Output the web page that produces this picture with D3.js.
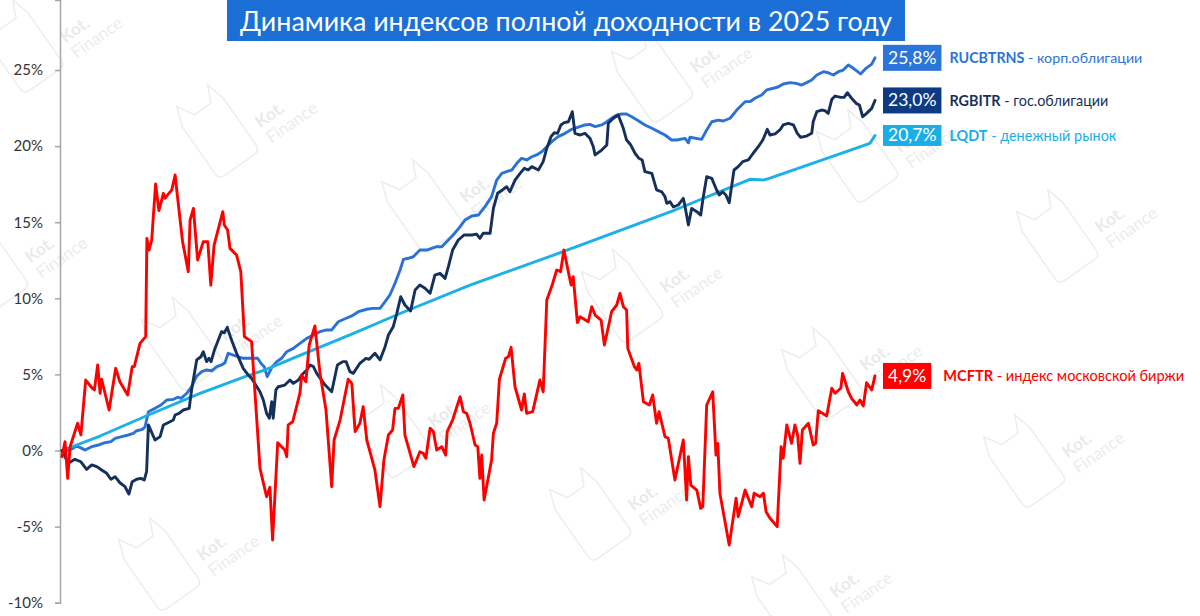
<!DOCTYPE html>
<html><head><meta charset="utf-8">
<script src="https://cdn.jsdelivr.net/npm/d3@7"></script>
<style>body{margin:0;background:#fff}svg{display:block;font-family:Lato,"Open Sans",sans-serif}</style>
</head><body><svg id="c" width="1200" height="616"></svg>
<script>
// trading-day index, total return %
const rucbtrns = [[0,0],[2.7,0.03],[4.9,0.3],[6.6,0.14],[7.7,0.03],[9.9,0.25],[12.1,0.36],[14.3,0.51],[16.3,0.58],[17.7,0.8],[19.9,0.91],[22.1,1.02],[23.8,1.13],[24.9,1.3],[26.8,1.39],[27.7,1.56],[28.8,2.55],[31,2.77],[33,2.99],[34.9,3.32],[37.1,3.36],[38.6,3.5],[39.7,3.43],[41.6,3.76],[43.2,4.19],[44.9,4.89],[46.6,5.18],[48.2,5.29],[49.9,5.24],[51.6,5.51],[53.2,5.62],[54.3,5.77],[55.4,6.39],[57.1,6.27],[58.6,6.16],[60.4,6.06],[63.2,6.06],[65.2,6.06],[66.3,5.73],[67.4,5.51],[68.4,4.85],[69.9,5.45],[71.6,5.84],[73.2,6.06],[74.9,6.49],[77.1,6.71],[79.3,7.04],[81.6,7.37],[83.8,7.59],[86,7.81],[88.2,7.92],[89.9,7.92],[92.1,8.46],[94.7,8.69],[96.6,8.84],[98.8,9.12],[101.6,9.28],[103.6,9.34],[106,9.34],[107.7,9.78],[109.3,10.22],[111,10.99],[112.7,11.86],[113.8,12.56],[115.4,12.63],[117.1,12.73],[119.3,13.17],[121.6,13.17],[123.2,13.28],[124.9,13.39],[126.6,13.39],[128.2,13.72],[130.4,14.16],[132.7,14.71],[134.3,15.14],[136.6,15.41],[138.8,15.47],[141,16.02],[143.2,16.68],[144.9,17.77],[146.6,18.21],[148.2,18.32],[149.9,18.43],[151.6,18.87],[153.2,19.2],[154.9,19.09],[156.6,19.3],[158.2,19.42],[159.9,19.63],[161.6,19.96],[163.2,20.29],[165.4,20.62],[167.7,20.84],[169.9,21.1],[172.1,21.24],[174.3,21.39],[176,21.43],[177.7,21.28],[179.9,21.39],[181.6,21.6],[183.2,21.83],[184.9,22.04],[186.6,22.11],[188.2,22.11],[189.9,21.93],[192.1,21.67],[194.3,21.39],[196.6,21.17],[198.8,20.95],[201,20.73],[203.2,20.4],[204.9,20.4],[207.7,20.51],[208.8,20.22],[209.3,20.58],[213.2,20.44],[214.9,21.06],[216.6,21.6],[218.8,21.71],[220.4,21.65],[222.7,21.83],[224.9,22.37],[227.7,22.92],[229.3,22.92],[231,23.14],[233.2,23.36],[234.9,23.69],[237.1,23.8],[238.8,23.9],[240.4,24.08],[242.7,24.17],[244.7,24.12],[246.6,24.01],[248.2,24.17],[249.9,24.34],[251.6,24.67],[253.8,24.89],[255.4,24.82],[257.1,24.67],[258.8,24.89],[260.4,25],[262.1,25.33],[263.8,25.11],[266.2,24.74],[268,25.11],[269.9,25.39],[271,25.8]];

const rgbitr = [[0,0],[2.1,-0.84],[4.3,-0.58],[6.3,-0.74],[8.2,-1.24],[9.9,-0.95],[11.6,-1.06],[13.2,-1.28],[14.9,-1.5],[16.3,-1.89],[17.7,-1.72],[19.3,-2.12],[21,-2.38],[22.3,-2.86],[23.4,-2.05],[24.9,-1.89],[26.3,-1.83],[27.4,-1.94],[28.2,-1.39],[28.8,1.68],[31,0.69],[32.7,0.91],[33.8,1.68],[36,1.89],[37.1,2],[37.7,2.33],[39,2.44],[40.4,2.66],[42.4,2.77],[43.2,3.98],[44.9,5.95],[46.3,6.16],[47.1,6.49],[48.2,5.84],[49,6.06],[49.7,5.84],[50.8,6.6],[52.1,7.26],[53.2,7.81],[54.1,7.74],[55.1,8.09],[56.3,7.37],[58.2,6.39],[60.4,5.4],[62.1,4.96],[63.2,4.74],[66,3.86],[67.1,3.32],[68.2,2.44],[69.1,2.12],[69.9,3.21],[70.4,2.12],[71.3,3.98],[72.1,4.19],[74.3,4.3],[76,4.63],[77.1,4.41],[78.8,4.63],[79.9,4.96],[81.6,5.29],[82.7,5.62],[83.8,5.51],[84.9,5.07],[87.7,4.3],[89.9,3.86],[91.8,5.62],[93.6,5.84],[94.7,5.84],[96,5.18],[97.1,5.07],[99.3,5.73],[101.3,6.06],[102.4,5.99],[104.3,6.39],[106,5.95],[107.7,6.82],[108.8,7.59],[110.4,8.13],[111.6,9.01],[112.9,10.1],[114.3,9.56],[116.2,9.17],[117.7,10.55],[119.3,10.87],[121,10.66],[122.7,10.33],[124.3,11.53],[126,11.64],[127.7,11.31],[128.8,12.08],[130.2,13.17],[132.1,13.83],[134,14.16],[136.6,14.16],[138.2,14.22],[139.3,13.94],[140.4,14.27],[142.7,14.27],[143.8,15.91],[145.2,16.9],[146.8,17.12],[148.2,17.33],[149.3,17],[151,17.77],[152.7,18.21],[154.1,18.54],[155.4,18.43],[156.6,18.65],[158.8,18.43],[160.4,18.98],[161.6,19.86],[163,20.62],[164.1,20.88],[165.2,20.84],[166.3,21.39],[167.4,21.54],[168.8,21.6],[170.1,22.26],[171,20.84],[172.7,20.73],[174.3,20.84],[176,20.51],[177.1,19.96],[177.7,19.42],[179.9,19.74],[181.6,20.07],[182.1,21.5],[183.8,21.83],[185.4,22.04],[187.1,21.17],[188.2,20.4],[189.6,20.07],[191,19.53],[192.3,19.2],[193.4,19.09],[194.3,18.32],[196.6,18.21],[197.4,17.66],[198.2,17.12],[199.9,17],[201,16.68],[201.6,16.24],[202.7,16.35],[203.8,16],[205.4,16.13],[207.1,16.57],[207.7,16.02],[208.8,14.82],[209.9,15.91],[211.6,15.69],[212.9,15.47],[213.6,16.46],[214.9,17.99],[216.6,17.88],[218.2,17.12],[219.1,16.79],[220.2,17],[221.3,16.79],[222.4,16.28],[224,18.43],[225.4,18.65],[226.9,18.98],[228.8,19.09],[230.4,19.53],[232.1,19.96],[233.6,20.4],[235.1,21.1],[236,20.73],[237.7,20.8],[239.3,21.06],[240.4,21.39],[242.1,21.5],[243.8,21.39],[245.1,20.84],[246.2,20.58],[248.2,20.66],[249.9,20.84],[250.4,21.6],[251.6,22.26],[253.2,22.37],[254.3,22.33],[255.4,22.15],[256.6,23.07],[257.7,23.29],[259.6,23.2],[260.7,23.2],[261.8,23.51],[263.2,23.14],[264.7,22.81],[265.8,22.7],[266.9,21.93],[268.2,22.15],[269.9,22.48],[271,23.0]];

const lqdt = [[0,0],[12.7,0.95],[28.8,2.33],[46,3.75],[61,4.85],[67.7,5.3],[79.3,6.25],[96,7.6],[112.7,9.0],[136,10.87],[167,13.06],[204.3,15.8],[229.3,17.82],[233.8,17.77],[236,17.9],[269.3,20.18],[271,20.7]];

const mcftr = [[0,-0.4],[1,0.58],[1.9,-1.83],[2.7,0.25],[5.2,1.79],[6.3,1.02],[7.9,4.63],[10.1,4.09],[10.8,3.98],[11.9,5.62],[12.7,3.76],[13.2,4.68],[15.7,2.66],[17.9,5.4],[19.3,4.52],[21.9,3.65],[23.4,5.51],[24.1,5.51],[26,7.04],[27.9,7.48],[28.3,13.94],[29,13.17],[29.9,13.83],[31.2,17.51],[32.3,15.76],[33.8,16.9],[34.3,16.57],[35.2,16.79],[36.6,17.12],[37.7,18.1],[39,15.8],[40.2,13.72],[42.1,11.75],[42.7,15.14],[43.8,15.91],[45.2,12.52],[47.1,13.72],[48.6,13.72],[49.6,10.87],[50.7,13.5],[53.6,15.69],[54.1,14.82],[55.2,14.49],[56,13.28],[58.2,12.84],[59.6,11.75],[60.8,7.48],[63.2,7.15],[66,-1.17],[68.2,-3.04],[69.3,-2.42],[70.2,-5.88],[71.9,0.51],[74.3,0.03],[74.9,-0.41],[75.4,1.68],[76.9,1.89],[79.3,3.76],[79.9,4.96],[81.3,4.52],[82.4,6.93],[84.3,8.18],[86,5.07],[88,2.66],[89.9,-2.38],[90.7,0.69],[92.7,2],[95.4,4.68],[96.6,4.41],[97.7,1.24],[99.3,1.79],[100.4,2.88],[101.6,0.69],[104.3,-1.28],[106,-3.69],[107.3,-0.62],[108.8,1.02],[110.2,1.35],[111,2.77],[112.1,2.77],[113.6,3.65],[114.3,1.02],[115.4,0.25],[117.3,-1.06],[119.3,-0.08],[120.4,-0.18],[121.3,-0.51],[122.7,1.46],[123.8,1.24],[124.9,0.03],[126.6,0.25],[127.9,-0.3],[128.4,1.24],[130.2,2],[132.7,3.54],[133.8,2.55],[134.9,2.44],[136,1.79],[137.7,0.36],[138.6,0.25],[139.3,-1.83],[139.9,-0.3],[140.7,-3.25],[143.2,-0.62],[143.8,1.13],[144.9,1.79],[145.8,4.68],[147.9,6.06],[148.8,6.16],[149.7,6.78],[151,4.19],[153.2,2.66],[154.1,3.71],[154.9,2.44],[156.9,2.55],[159.3,4.63],[160.4,3.86],[161.6,9.89],[163.4,10.87],[164.9,11.86],[166.2,11.75],[167.3,13.17],[169,11.53],[169.7,10.87],[170.4,11.42],[171.8,8.4],[172.7,8.79],[175.4,8.46],[176.6,9.45],[177.7,8.9],[179.7,8.57],[180.8,6.93],[181.9,7.92],[183.2,9.12],[184.9,9.56],[186,10.33],[187.1,9.45],[188.2,9.23],[188.6,6.71],[190.8,5.51],[191.6,5.29],[192.3,5.73],[193.8,3.21],[195.8,2.99],[196.9,3.65],[198.2,1.79],[199,2.55],[201,0.91],[202.1,0.8],[204.3,-1.94],[207.1,0.69],[208.2,-3.25],[208.8,-0.41],[209.6,-2.27],[211.6,-2.6],[212.9,-3.8],[213.6,-3.69],[214.9,2.99],[216.9,3.86],[218,-0.3],[218.6,0.47],[219.3,-2.81],[222.4,-6.21],[224.7,-3.14],[225.4,-4.35],[227.7,-2.6],[229.9,-3.69],[230.7,-2.81],[232.7,-3.04],[233.8,-2.81],[234.7,-4.02],[236,-4.45],[238.4,-5],[239.7,0.25],[240.4,-0.51],[241.6,1.68],[243.2,0.47],[244.3,1.68],[245.2,1.02],[246,-0.84],[246.8,1.35],[248.8,1.79],[250.4,0.36],[251.2,0.47],[252.1,2.62],[254.9,2.27],[256.6,4.09],[257.7,3.76],[259.6,4.09],[260.2,5.07],[262.1,3.86],[263.2,3.43],[264.9,2.99],[266,3.32],[267.1,2.92],[268.2,4.45],[269.9,3.98],[271,4.9]];

const yTicks = [-10, -5, 0, 5, 10, 15, 20, 25];
const titleText = "Динамика индексов полной доходности в 2025 году";
const seriesNames = ["RUCBTRNS", "RGBITR", "LQDT", "MCFTR"];
const seriesDesc = ["корп.облигации", "гос.облигации", "денежный рынок", "индекс московской биржи"];
const finalValues = ["25,8%", "23,0%", "20,7%", "4,9%"];
const finalNums = [25.8, 23.0, 20.7, 4.9];

const lineColors = {RUCBTRNS: "#2A72D8", RGBITR: "#15305A", LQDT: "#1BB0EA", MCFTR: "#FF0000"};
const boxColors = ["#2B74D9", "#0C3B84", "#1AAEE8", "#FF0000"];
const textColors = ["#2B74D6", "#17315D", "#1AAEE8", "#FF0000"];

const svg = d3.select("#c");

const x = d3.scaleLinear().domain([0, 271]).range([62, 875]);
const y = d3.scaleLinear().domain([-10, 29.6]).range([602.7, 0]);

// watermarks
const marks = [[95,30],[290,115],[495,190],[695,280],[895,358],[1097,445],[725,60],[930,140],[1130,220],[60,250],[255,328],[463,415],[663,498],[865,585],[232,548]];
const wm = svg.append("g").attr("class","watermarks");
marks.forEach(([cx, cy]) => {
  const g = wm.append("g").attr("transform", `translate(${cx},${cy}) rotate(-35)`);
  g.append("path")
    .attr("d", "M-95,-52 L-88,-72 L-78,-55 L-58,-55 L-50,-72 L-45,-52 L-45,5 Q-45,12 -52,12 L-88,12 Q-95,12 -95,5 Z")
    .attr("fill", "none").attr("stroke", "#ededed").attr("stroke-width", 1.5);
  g.append("text").attr("x", -32).attr("y", -6).attr("font-size", 17).attr("font-weight", 700)
    .attr("fill", "#eaeaea").text("Kot.");
  g.append("text").attr("x", -32).attr("y", 13).attr("font-size", 17)
    .attr("fill", "#ececec").text("Finance");
});

// y axis
const yAxis = d3.axisLeft(y).tickValues(yTicks).tickSizeOuter(0).tickSize(5).tickPadding(12)
  .tickFormat(d => d + "%");
const ag = svg.append("g").attr("transform", "translate(60,0)").call(yAxis);
ag.select(".domain").attr("stroke", "#A6A6A6").attr("stroke-width", 1.5);
ag.selectAll(".tick line").attr("stroke", "#A6A6A6").attr("stroke-width", 1.5);
ag.selectAll(".tick text").attr("font-size", 15).attr("fill", "#333").attr("font-family", "Lato, sans-serif");

// lines
const line = d3.line().x(d => x(d[0])).y(d => y(d[1])).curve(d3.curveLinear);
const seriesData = {RUCBTRNS: rucbtrns, LQDT: lqdt, RGBITR: rgbitr, MCFTR: mcftr};
["RUCBTRNS", "LQDT", "RGBITR", "MCFTR"].forEach(name => {
  svg.append("path").datum(seriesData[name])
    .attr("d", line)
    .attr("fill", "none")
    .attr("stroke", lineColors[name])
    .attr("stroke-width", 2.9)
    .attr("stroke-linejoin", "round").attr("stroke-linecap", "round");
});

// title
svg.append("rect").attr("x", 227).attr("y", 0).attr("width", 678).attr("height", 41).attr("fill", "#1B6FD6");
const tt = svg.append("text").attr("x", 566).attr("y", 31).attr("text-anchor", "middle")
  .attr("fill", "#fff").attr("font-size", 27).text(titleText);
function fit(sel, target) {
  const w = sel.node().getComputedTextLength();
  const fs = +sel.attr("font-size");
  sel.attr("font-size", (fs * target / w).toFixed(2));
}
fit(tt, 652);

// end labels
const labelTargets = [193, 159, 167, 241];
const boxHeights = [26, 26, 21, 26];
finalNums.forEach((v, i) => {
  const cy = y(v);
  const g = svg.append("g");
  const vt = g.append("text").attr("font-size", 17.5).attr("fill", "#fff").text(finalValues[i]);
  const tw = vt.node().getComputedTextLength();
  const bw = tw + 10;
  const bh = boxHeights[i];
  g.insert("rect", "text").attr("x", 883).attr("y", cy - bh / 2).attr("width", bw).attr("height", bh)
    .attr("fill", boxColors[i]);
  vt.attr("x", 883 + bw / 2).attr("text-anchor", "middle").attr("y", cy + 6);
  const lx = 883 + bw + (i === 3 ? 12 : 8);
  const lt = g.append("text").attr("x", lx).attr("y", cy + 5.5).attr("font-size", 15).attr("fill", textColors[i]);
  lt.append("tspan").attr("font-weight", 700).text(seriesNames[i]);
  lt.append("tspan").text(" - " + seriesDesc[i]);
  fit(lt, labelTargets[i]);
});
</script></body></html>
